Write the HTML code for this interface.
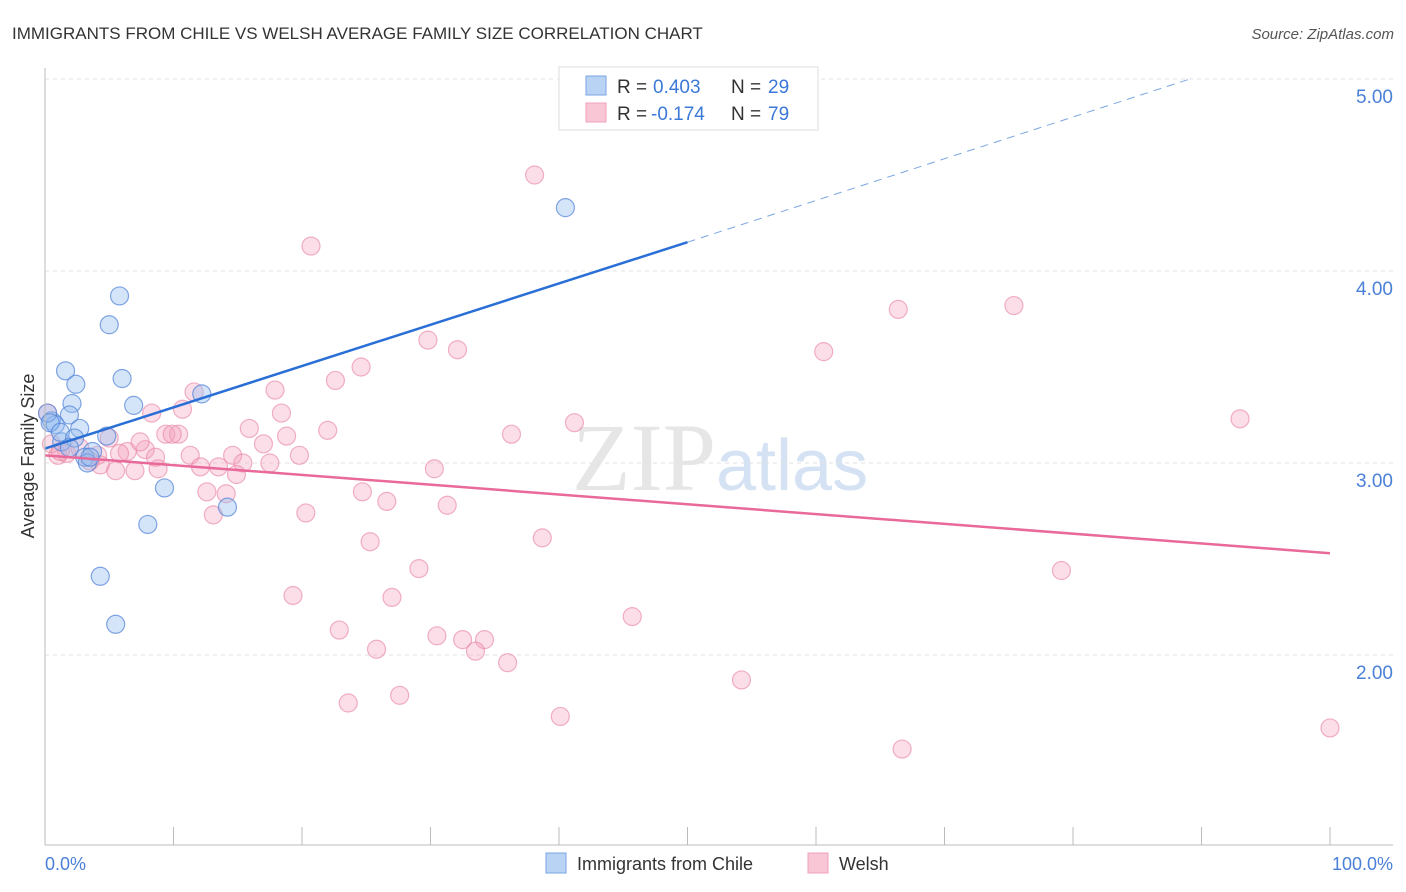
<!DOCTYPE html>
<html><head><meta charset="utf-8"><style>
body{margin:0;background:#fff;font-family:"Liberation Sans",sans-serif;}
svg{display:block}
</style></head><body>
<svg id="chart" width="1406" height="892">
<text x="12" y="39" font-size="17" fill="#333">IMMIGRANTS FROM CHILE VS WELSH AVERAGE FAMILY SIZE CORRELATION CHART</text>
<text x="1394" y="39" font-size="15" fill="#555" font-style="italic" text-anchor="end">Source: ZipAtlas.com</text>
<text x="716" y="490" font-size="96" fill="#e6e6e6" text-anchor="end" font-family="Liberation Serif,serif">ZIP</text>
<text x="716" y="490" font-size="72" fill="#d4e2f4">atlas</text>
<g id="grid"></g><g id="ticks"></g><g id="pts"></g><g id="lines"></g>
<line x1="45" y1="845" x2="1393" y2="845" stroke="#bbb"/>
<line x1="45" y1="68" x2="45" y2="845" stroke="#bbb"/>
<text x="34" y="456" font-size="18" fill="#333" text-anchor="middle" transform="rotate(-90 34 456)">Average Family Size</text>
<text x="45" y="870" font-size="18" fill="#4a80d8">0.0%</text>
<text x="1393" y="870" font-size="18" fill="#4a80d8" text-anchor="end">100.0%</text>
<g>
<rect x="559" y="67" width="259" height="63" fill="#fff" stroke="#ddd"/>
<rect x="586" y="76" width="20" height="19" fill="#b8d3f4" stroke="#7aa6e3"/>
<rect x="586" y="103" width="20" height="19" fill="#f9c6d6" stroke="#eea0b9"/>
<text x="617" y="93" font-size="19" fill="#333">R =</text>
<text x="653" y="93" font-size="19" fill="#3b78d8">0.403</text>
<text x="731" y="93" font-size="19" fill="#333">N =</text>
<text x="768" y="93" font-size="19" fill="#3b78d8">29</text>
<text x="617" y="120" font-size="19" fill="#333">R =</text>
<text x="651" y="120" font-size="19" fill="#3b78d8">-0.174</text>
<text x="731" y="120" font-size="19" fill="#333">N =</text>
<text x="768" y="120" font-size="19" fill="#3b78d8">79</text>
</g>
<g>
<rect x="546" y="853" width="20" height="20" fill="#b8d3f4" stroke="#7aa6e3"/>
<text x="577" y="870" font-size="18" fill="#333">Immigrants from Chile</text>
<rect x="808" y="853" width="20" height="20" fill="#f9c6d6" stroke="#eea0b9"/>
<text x="839" y="870" font-size="18" fill="#333">Welsh</text>
</g>
</svg>
<script>
const yTicks=[5,4,3,2];
const yTickLabels=["5.00","4.00","3.00","2.00"];
const chileX=[5.8,5.0,1.6,6.0,2.4,6.9,2.1,1.9,12.2,0.5,0.8,2.7,1.3,4.8,3.7,3.1,3.3,9.3,14.2,8.0,4.3,5.5,40.5,0.2,0.4,1.2,2.3,3.5,1.9];
const chileY=[3.87,3.72,3.48,3.44,3.41,3.30,3.31,3.25,3.36,3.22,3.20,3.18,3.11,3.14,3.06,3.03,3.00,2.87,2.77,2.68,2.41,2.16,4.33,3.26,3.21,3.16,3.13,3.03,3.08];
const welshX=[47.5,38.1,20.7,66.4,75.4,29.8,32.1,60.6,24.6,22.6,11.6,17.9,93,8.3,10.7,18.4,41.2,15.9,9.4,10.4,5.0,22.0,18.8,36.3,9.9,17.0,7.8,6.4,11.3,14.6,19.8,1.0,1.7,4.1,4.3,5.5,7.0,8.8,12.1,13.5,15.4,17.5,30.3,14.9,12.6,14.1,24.7,26.6,31.3,20.3,13.1,38.7,25.3,29.1,79.1,19.3,27.0,45.7,22.9,30.5,32.5,34.2,33.5,25.8,36.0,54.2,27.6,23.6,40.1,66.7,100,0.2,0.5,1.2,2.7,3.5,7.4,8.6,5.8];
const welshY=[4.99,4.50,4.13,3.80,3.82,3.64,3.59,3.58,3.50,3.43,3.37,3.38,3.23,3.26,3.28,3.26,3.21,3.18,3.15,3.15,3.13,3.17,3.14,3.15,3.15,3.10,3.07,3.06,3.04,3.04,3.04,3.04,3.05,3.04,2.99,2.96,2.96,2.97,2.98,2.98,3.00,3.00,2.97,2.94,2.85,2.84,2.85,2.80,2.78,2.74,2.73,2.61,2.59,2.45,2.44,2.31,2.30,2.20,2.13,2.10,2.08,2.08,2.02,2.03,1.96,1.87,1.79,1.75,1.68,1.51,1.62,3.26,3.10,3.06,3.08,3.01,3.11,3.03,3.05];
const chileTrend=[3.075,4.15,5.0];const chileTrendX=[0,50,89.1];
const welshTrend=[3.04,2.53];const welshTrendX=[0,100];
const X=v=>45+v/100*1285, Y=v=>79+(5-v)*192;
const NS="http://www.w3.org/2000/svg";
function mk(tag,attrs,parent){const e=document.createElementNS(NS,tag);for(const k in attrs)e.setAttribute(k,attrs[k]);document.getElementById(parent).appendChild(e);return e;}
yTicks.forEach((t,i)=>{
 const l=mk('line',{x1:45,x2:1393,y1:Y(t),y2:Y(t),stroke:'#e2e2e2','stroke-dasharray':'4,4'},'grid');
 
 
 const tx=mk('text',{x:1393,y:Y(t)+24,'font-size':19,fill:'#4a80d8','text-anchor':'end'},'grid');
 tx.textContent=yTickLabels[i];
 
 
});
for(let i=0;i<=10;i++){
 const l=mk('line',{x1:X(i*10),x2:X(i*10),y1:827,y2:845,stroke:'#bbb'},'ticks');
 
 
}
welshX.forEach((x,i)=>{
 const c=mk('circle',{cx:X(x),cy:Y(welshY[i]),r:9,fill:'rgba(244,160,188,0.35)',stroke:'rgba(232,128,160,0.6)','stroke-width':1.2},'pts');
 
 
});
chileX.forEach((x,i)=>{
 const c=mk('circle',{cx:X(x),cy:Y(chileY[i]),r:9,fill:'rgba(150,190,240,0.4)',stroke:'rgba(80,130,215,0.7)','stroke-width':1.2},'pts');
 
 
});
let l1=mk('line',{x1:X(chileTrendX[0]),y1:Y(chileTrend[0]),x2:X(chileTrendX[1]),y2:Y(chileTrend[1]),stroke:'#2a6fd6','stroke-width':2.5},'lines');


let l2=mk('line',{x1:X(chileTrendX[1]),y1:Y(chileTrend[1]),x2:X(chileTrendX[2]),y2:Y(chileTrend[2]),stroke:'#7aa6e3','stroke-width':1,'stroke-dasharray':'8,6'},'lines');


let l3=mk('line',{x1:X(welshTrendX[0]),y1:Y(welshTrend[0]),x2:X(welshTrendX[1]),y2:Y(welshTrend[1]),stroke:'#e8699a','stroke-width':2.5},'lines');


</script>
</body></html>
